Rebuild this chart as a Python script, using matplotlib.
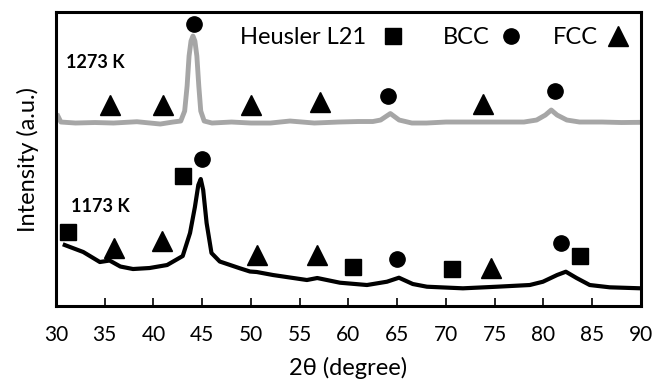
import numpy as np
import matplotlib
matplotlib.use("Agg")
import matplotlib.pyplot as plt

plt.rcParams['font.family'] = ['Lato', 'DejaVu Sans']

# 1273 K pattern (grey), 2theta vs intensity (a.u.)
t1273 = [30.2, 30.5, 32.0, 34.0, 35.9, 38.3, 40.7, 42.0, 42.8, 43.2, 43.45, 43.65, 43.85,
         44.05, 44.25, 44.45, 44.65, 44.85, 45.2, 46.0, 48.0, 50.0, 52.0, 54.0, 56.5, 59.0,
         61.0, 62.5, 63.3, 64.3, 65.2, 66.5, 68.0, 70.0, 72.0, 75.0, 78.0, 79.3, 80.2, 80.8,
         81.4, 82.4, 83.7, 86.0, 88.0, 90.0]
i1273 = [190, 184, 183, 183.5, 183, 184.3, 182, 184, 185, 195, 220, 250, 265,
         270, 265, 250, 220, 195, 185, 183, 184, 183, 183, 185, 183, 184,
         184.5, 184.5, 186, 192.5, 186, 183, 183, 184, 184, 184, 184, 186, 191, 196,
         191, 186, 184, 184, 183.5, 183.7]

# 1173 K pattern (black)
t1173 = [30.9, 32.8, 34.5, 35.5, 36.6, 37.9, 39.6, 41.4, 43.0, 43.75, 44.25, 44.6, 44.85,
         45.1, 45.45, 45.95, 46.8, 48.87, 49.9, 50.6, 52.26, 55.74, 56.8, 59.13, 61.9, 63.95,
         65.18, 66.6, 68.05, 71.74, 75.23, 78.6, 79.95, 81.4, 82.3, 83.4, 84.75, 86.8, 90.0]
i1173 = [61, 54, 44, 45.5, 39.5, 37, 38, 41, 50, 73, 99, 121, 127,
         116, 83, 53, 44.5, 37.7, 34.5, 34, 31, 26, 28, 23.3, 21, 24.3,
         28.3, 22, 19.3, 17.7, 19.3, 21, 24.3, 31, 34.3, 28, 21, 18.7, 17.7]

# phase markers (2theta, height)
fcc_1273_x = [35.5, 41.0, 50.0, 57.1, 73.8]
fcc_1273_y = [201, 201, 201, 204, 202]
bcc_1273_x = [44.2, 64.1, 81.2]
bcc_1273_y = [282, 210, 215]

l21_1173_x = [31.2, 43.0, 60.5, 70.6, 83.7]
l21_1173_y = [74, 130, 39, 37, 50]
bcc_1173_x = [44.95, 65.0, 81.8]
bcc_1173_y = [147, 47, 63]
fcc_1173_x = [35.9, 40.9, 50.6, 56.8, 74.6]
fcc_1173_y = [58, 65, 51, 51, 38]

fig = plt.figure(figsize=(6.54, 3.88), dpi=100)
ax = fig.add_axes([0.0856, 0.2113, 0.8944, 0.7577])

ax.plot(t1273, i1273, color='#a6a6a6', lw=3.5, solid_joinstyle='round')
ax.plot(t1173, i1173, color='black', lw=3, solid_joinstyle='round')

ax.plot(fcc_1273_x, fcc_1273_y, '^', color='black', ms=14, ls='none')
ax.plot(bcc_1273_x, bcc_1273_y, 'o', color='black', ms=11, ls='none')
ax.plot(l21_1173_x, l21_1173_y, 's', color='black', ms=12, ls='none')
ax.plot(bcc_1173_x, bcc_1173_y, 'o', color='black', ms=11, ls='none')
ax.plot(fcc_1173_x, fcc_1173_y, '^', color='black', ms=14, ls='none')

# legend made of text + markers like the original
ax.text(55.3, 269, 'Heusler L21', fontsize=17, ha='center', va='center')
ax.plot([64.56], [270], 's', color='black', ms=12)
ax.text(72.1, 269, 'BCC', fontsize=17, ha='center', va='center')
ax.plot([76.67], [270], 'o', color='black', ms=11)
ax.text(83.33, 269, 'FCC', fontsize=17, ha='center', va='center')
ax.plot([87.64], [270], '^', color='black', ms=14)

ax.text(31.0, 244, '1273 K', fontsize=13, fontweight='bold', va='center')
ax.text(31.5, 100, '1173 K', fontsize=13, fontweight='bold', va='center')

ax.set_xlim(30, 90)
ax.set_ylim(0, 294)
ax.set_xticks(np.arange(30, 91, 5))
ax.set_yticks([])
ax.tick_params(axis='x', direction='in', length=5.5, width=1.2, labelsize=15, pad=14)
for s in ax.spines.values():
    s.set_linewidth(2.2)

ax.set_xlabel('2θ (degree)', fontsize=17, labelpad=8)
ax.set_ylabel('Intensity (a.u.)', fontsize=17, labelpad=12)

fig.savefig('out.png', dpi=100)
